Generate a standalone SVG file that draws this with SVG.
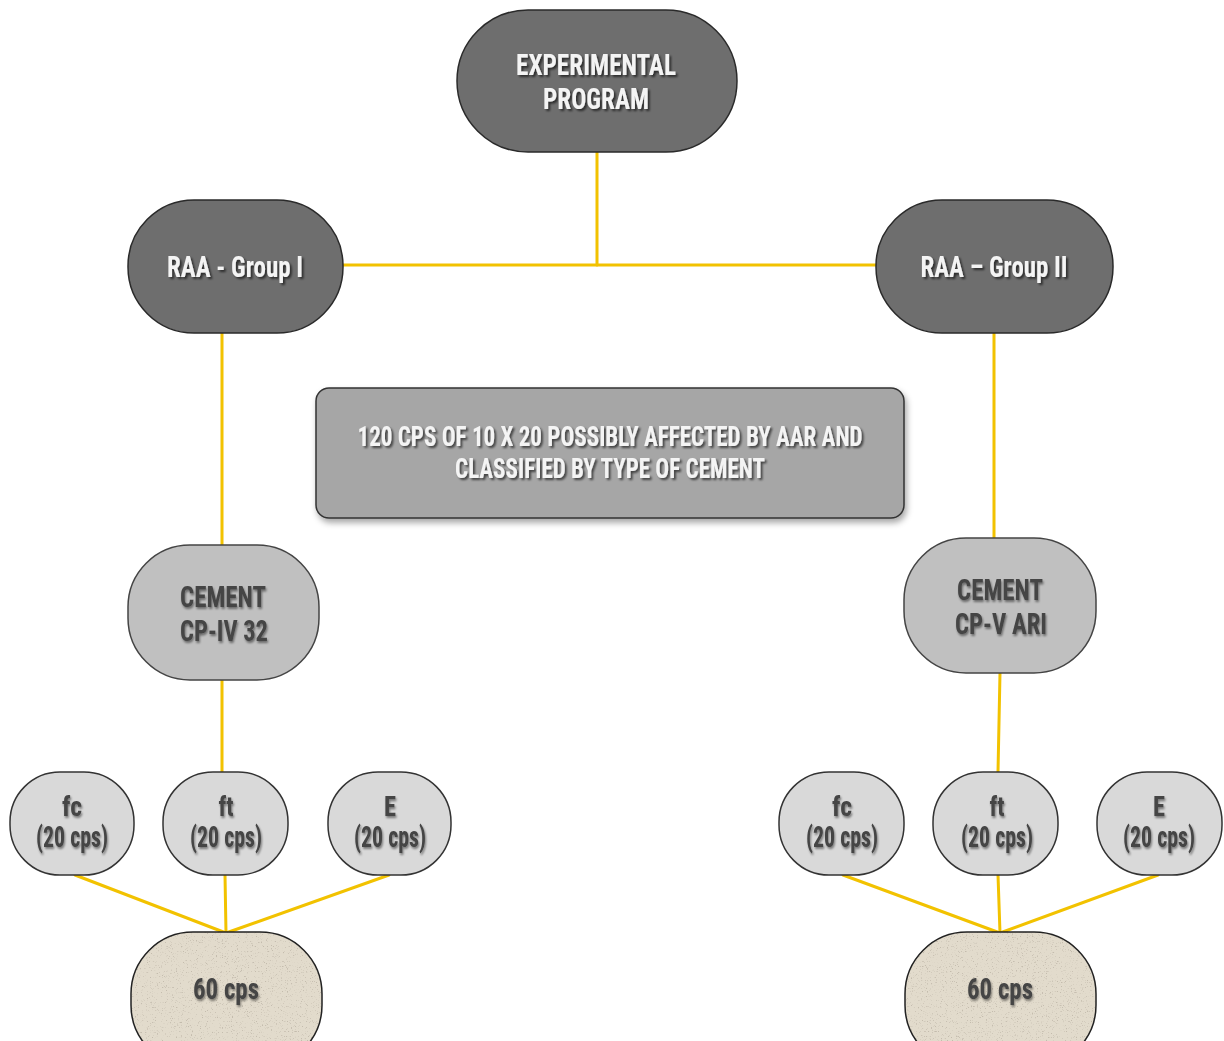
<svg xmlns="http://www.w3.org/2000/svg" width="1224" height="1041" viewBox="0 0 1224 1041">
<defs>
<filter id="tsw" x="-10%" y="-20%" width="130%" height="150%">
<feGaussianBlur in="SourceAlpha" stdDeviation="1"/>
<feOffset dx="1.5" dy="2" result="b"/>
<feFlood flood-color="#000" flood-opacity="0.6"/>
<feComposite in2="b" operator="in"/>
<feMerge><feMergeNode/><feMergeNode in="SourceGraphic"/></feMerge>
</filter>
<filter id="tsd" x="-10%" y="-20%" width="130%" height="150%">
<feGaussianBlur in="SourceAlpha" stdDeviation="1.2"/>
<feOffset dx="1" dy="1.5" result="b"/>
<feFlood flood-color="#000" flood-opacity="0.45"/>
<feComposite in2="b" operator="in"/>
<feMerge><feMergeNode/><feMergeNode in="SourceGraphic"/></feMerge>
</filter>
<filter id="boxsh" x="-5%" y="-10%" width="115%" height="130%">
<feGaussianBlur in="SourceAlpha" stdDeviation="3"/>
<feOffset dx="2" dy="4" result="b"/>
<feFlood flood-color="#000" flood-opacity="0.35"/>
<feComposite in2="b" operator="in"/>
<feMerge><feMergeNode/><feMergeNode in="SourceGraphic"/></feMerge>
</filter>
<filter id="sand" x="0" y="0" width="100%" height="100%">
<feTurbulence type="fractalNoise" baseFrequency="0.8" numOctaves="2" seed="3" result="n"/>
<feColorMatrix in="n" type="matrix" values="0 0 0 0 0.55  0 0 0 0 0.5  0 0 0 0 0.42  0 0 0 -6 2.3" result="spk"/>
<feComposite in="spk" in2="SourceGraphic" operator="in" result="s2"/>
<feMerge><feMergeNode in="SourceGraphic"/><feMergeNode in="s2"/></feMerge>
</filter>
</defs>
<style>
.dark{fill:#6e6e6e;stroke:#2a2a2a;stroke-width:1.5}
.mid{fill:#a6a6a6;stroke:#333;stroke-width:1.5}
.cem{fill:#c0c0c0;stroke:#444;stroke-width:1.5}
.lt{fill:#d9d9d9;stroke:#333;stroke-width:1.5}
.sandfill{fill:#e2dbcc;filter:url(#sand)}
.sandline{fill:none;stroke:#222;stroke-width:1.5}
text{font-family:"Roboto Condensed",Roboto,"DejaVu Sans Condensed",sans-serif;font-weight:bold;text-anchor:middle}
.w{fill:#f4f4f4;filter:url(#tsw)}
.d{fill:#444;filter:url(#tsd)}
.conn line{stroke:#f2c200;stroke-width:3;stroke-linecap:round}
</style>
<g class="conn" id="connectors">
<line x1="597" y1="152" x2="597" y2="265"/>
<line x1="343" y1="265" x2="876" y2="265"/>
<line x1="222" y1="333" x2="222" y2="545"/>
<line x1="994" y1="333" x2="994" y2="538"/>
<line x1="222" y1="680" x2="222" y2="772"/>
<line x1="1000" y1="673" x2="998" y2="772"/>
<line x1="75" y1="875" x2="226" y2="933"/>
<line x1="225" y1="875" x2="226" y2="933"/>
<line x1="389" y1="875" x2="226" y2="933"/>
<line x1="843" y1="875" x2="1000" y2="933"/>
<line x1="998" y1="875" x2="1000" y2="933"/>
<line x1="1158" y1="875" x2="1000" y2="933"/>
</g>
<g id="experimental-program">
<rect class="dark" x="457" y="10" width="280" height="142" rx="71"/>
<text class="w" x="596" y="75" font-size="30" textLength="160" lengthAdjust="spacingAndGlyphs">EXPERIMENTAL</text>
<text class="w" x="596" y="109" font-size="30" textLength="106" lengthAdjust="spacingAndGlyphs">PROGRAM</text>
</g>
<g id="raa-group-1">
<rect class="dark" x="128" y="200" width="215" height="133" rx="66"/>
<text class="w" x="235" y="277" font-size="29" textLength="136" lengthAdjust="spacingAndGlyphs">RAA - Group I</text>
</g>
<g id="raa-group-2">
<rect class="dark" x="876" y="200" width="237" height="133" rx="66"/>
<text class="w" x="994" y="277" font-size="29" textLength="147" lengthAdjust="spacingAndGlyphs">RAA – Group II</text>
</g>
<g id="summary">
<rect class="mid" x="316" y="388" width="588" height="130" rx="13" filter="url(#boxsh)"/>
<text class="w" x="610" y="446" font-size="28" textLength="505" lengthAdjust="spacingAndGlyphs">120 CPS OF 10 X 20 POSSIBLY AFFECTED BY AAR AND</text>
<text class="w" x="610" y="478" font-size="28" textLength="310" lengthAdjust="spacingAndGlyphs">CLASSIFIED BY TYPE OF CEMENT</text>
</g>
<g id="cement-cp-iv">
<rect class="cem" x="128" y="545" width="191" height="135" rx="62"/>
<text class="d" x="223" y="607" font-size="29" textLength="86" lengthAdjust="spacingAndGlyphs">CEMENT</text>
<text class="d" x="224" y="641" font-size="29" textLength="88" lengthAdjust="spacingAndGlyphs">CP-IV 32</text>
</g>
<g id="cement-cp-v">
<rect class="cem" x="904" y="538" width="192" height="135" rx="62"/>
<text class="d" x="1000" y="600" font-size="29" textLength="86" lengthAdjust="spacingAndGlyphs">CEMENT</text>
<text class="d" x="1001" y="634" font-size="29" textLength="92" lengthAdjust="spacingAndGlyphs">CP-V ARI</text>
</g>
<g id="fc-1">
<rect class="lt" x="10" y="772" width="124" height="103" rx="50"/>
<text class="d" x="72" y="816" font-size="28" textLength="20" lengthAdjust="spacingAndGlyphs">fc</text>
<text class="d" x="72" y="847" font-size="29" textLength="72" lengthAdjust="spacingAndGlyphs">(20 cps)</text>
</g>
<g id="ft-1">
<rect class="lt" x="163" y="772" width="125" height="103" rx="50"/>
<text class="d" x="226" y="816" font-size="28" textLength="15" lengthAdjust="spacingAndGlyphs">ft</text>
<text class="d" x="226" y="847" font-size="29" textLength="72" lengthAdjust="spacingAndGlyphs">(20 cps)</text>
</g>
<g id="e-1">
<rect class="lt" x="328" y="772" width="123" height="103" rx="50"/>
<text class="d" x="390" y="816" font-size="28" textLength="12" lengthAdjust="spacingAndGlyphs">E</text>
<text class="d" x="390" y="847" font-size="29" textLength="72" lengthAdjust="spacingAndGlyphs">(20 cps)</text>
</g>
<g id="fc-2">
<rect class="lt" x="779" y="772" width="125" height="103" rx="50"/>
<text class="d" x="842" y="816" font-size="28" textLength="20" lengthAdjust="spacingAndGlyphs">fc</text>
<text class="d" x="842" y="847" font-size="29" textLength="72" lengthAdjust="spacingAndGlyphs">(20 cps)</text>
</g>
<g id="ft-2">
<rect class="lt" x="933" y="772" width="125" height="103" rx="50"/>
<text class="d" x="997" y="816" font-size="28" textLength="15" lengthAdjust="spacingAndGlyphs">ft</text>
<text class="d" x="997" y="847" font-size="29" textLength="72" lengthAdjust="spacingAndGlyphs">(20 cps)</text>
</g>
<g id="e-2">
<rect class="lt" x="1097" y="772" width="125" height="103" rx="50"/>
<text class="d" x="1159" y="816" font-size="28" textLength="12" lengthAdjust="spacingAndGlyphs">E</text>
<text class="d" x="1159" y="847" font-size="29" textLength="72" lengthAdjust="spacingAndGlyphs">(20 cps)</text>
</g>
<g id="total-1">
<rect class="sandfill" x="131" y="932" width="191" height="135" rx="62"/>
<rect class="sandline" x="131" y="932" width="191" height="135" rx="62"/>
<text class="d" x="226" y="999" font-size="30" textLength="66" lengthAdjust="spacingAndGlyphs">60 cps</text>
</g>
<g id="total-2">
<rect class="sandfill" x="905" y="932" width="191" height="135" rx="62"/>
<rect class="sandline" x="905" y="932" width="191" height="135" rx="62"/>
<text class="d" x="1000" y="999" font-size="30" textLength="66" lengthAdjust="spacingAndGlyphs">60 cps</text>
</g>
</svg>
